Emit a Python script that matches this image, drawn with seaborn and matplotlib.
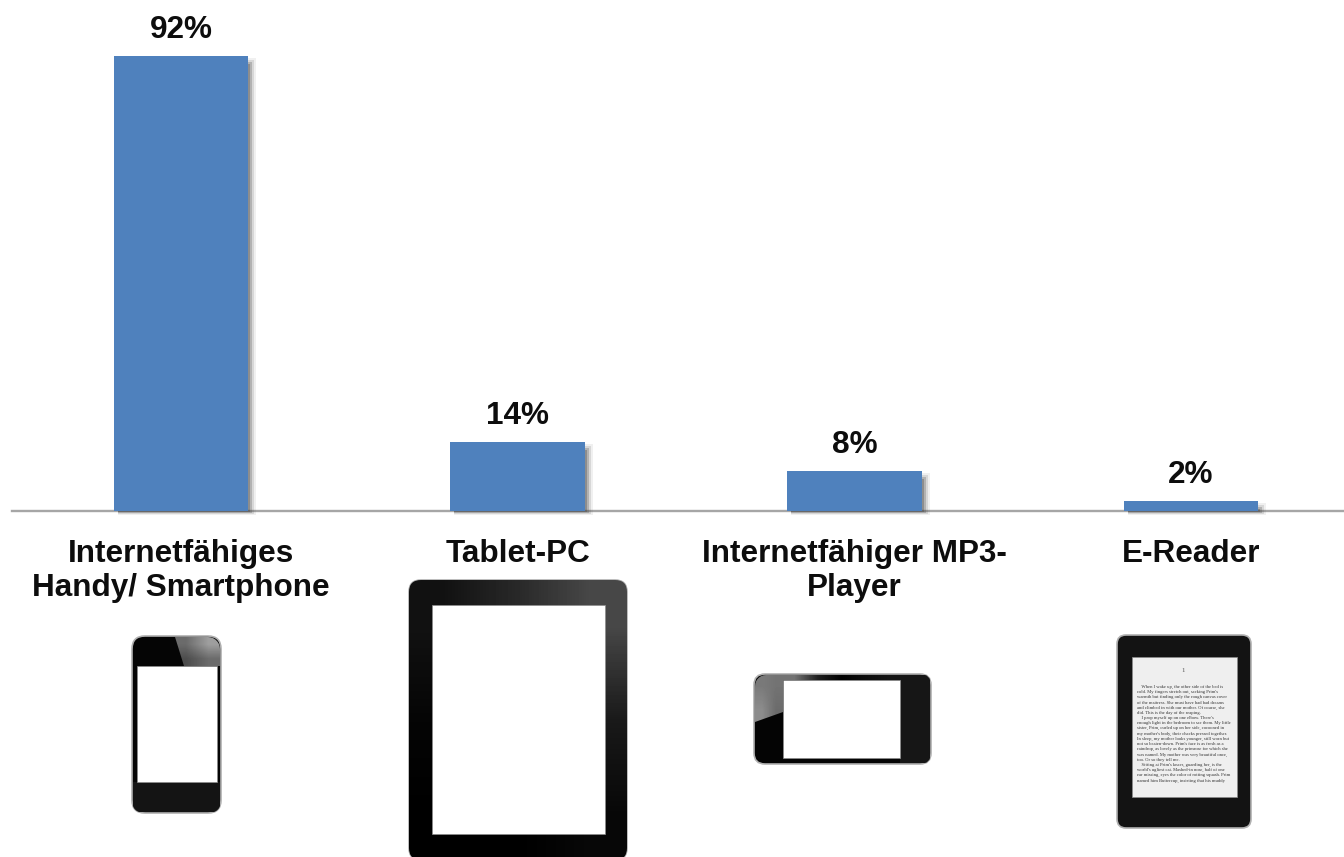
import matplotlib
matplotlib.use("Agg")
import matplotlib.pyplot as plt
from matplotlib.patches import FancyBboxPatch, Rectangle, Polygon
import numpy as np
import seaborn as sns
import pandas as pd

categories = ["Internetfähiges\nHandy/ Smartphone", "Tablet-PC", "Internetfähiger MP3-\nPlayer", "E-Reader"]
values = [92, 14, 8, 2]
value_labels = ["92%", "14%", "8%", "2%"]
page_text = ("    When I wake up, the other side of the bed is\ncold. My fingers stretch out, seeking Prim's\n"
             "warmth but finding only the rough canvas cover\nof the mattress. She must have had bad dreams\n"
             "and climbed in with our mother. Of course, she\ndid. This is the day of the reaping.\n"
             "    I prop myself up on one elbow. There's\nenough light in the bedroom to see them. My little\n"
             "sister, Prim, curled up on her side, cocooned in\nmy mother's body, their cheeks pressed together.\n"
             "In sleep, my mother looks younger, still worn but\nnot so beaten-down. Prim's face is as fresh as a\n"
             "raindrop, as lovely as the primrose for which she\nwas named. My mother was very beautiful once,\n"
             "too. Or so they tell me.\n"
             "    Sitting at Prim's knees, guarding her, is the\nworld's ugliest cat. Mashed-in nose, half of one\n"
             "ear missing, eyes the color of rotting squash. Prim\nnamed him Buttercup, insisting that his muddy")

W, H = 1344, 857
sns.set_theme(style="white")
plt.rcParams['font.family'] = ['Liberation Sans', 'DejaVu Sans']
fig = plt.figure(figsize=(W/100, H/100), dpi=100, facecolor="white")

top_px, base_px = 0, 511
ax = fig.add_axes([12/W, 1-base_px/H, (W-12)/W, (base_px-top_px)/H])
unit = (511-56)/92
df = pd.DataFrame({"cat": categories, "val": values})
sns.barplot(data=df, x="cat", y="val", color="#4F81BD", saturation=1, width=0.4,
            linewidth=0, ax=ax, zorder=3)
xspan = (W-12)/336.67
ax.set_xlim(-0.502, -0.502+xspan)
ax.set_ylim(0, (base_px-top_px)/unit)
pxx, pxy = 1/336.67, 1/unit
# soft drop shadow derived from each bar
for p in list(ax.patches):
    for off, a in ((8, .08), (6, .14), (4, .24), (2, .32)):
        ax.add_patch(Rectangle((p.get_x()+4*pxx, -off*0.5*pxy),
                               p.get_width()-4*pxx+off*pxx,
                               max(p.get_height()-(10-off)*pxy, 0)+off*0.5*pxy,
                               color="#404040", alpha=a, lw=0, zorder=2.7, clip_on=False))
for s in ("top", "left", "right"):
    ax.spines[s].set_visible(False)
ax.spines["bottom"].set_color("#A6A6A6")
ax.spines["bottom"].set_linewidth(1.7)
ax.set_yticks([])
ax.set_xlabel("")
ax.set_ylabel("")
ax.tick_params(axis="x", length=0, pad=20.5)
ax.set_xticks(range(4))
ax.set_xticklabels(categories, fontsize=22.7, fontweight="bold", color="#0d0d0d", linespacing=1.14, va="top")
for i, (v, t) in enumerate(zip(values, value_labels)):
    ax.annotate(t, (i, v), xytext=(0, 8), textcoords="offset points", ha="center", va="bottom",
                fontsize=22.7, fontweight="bold", color="#0d0d0d", annotation_clip=False)

# device pictograms, in pixel coordinates
ov = fig.add_axes([0, 0, 1, 1], facecolor="none")
ov.axis("off")

def device(x0, y0, x1, y1, sx0, sy0, sx1, sy1, r=12, body="#0a0a0a", screen="white"):
    patch = FancyBboxPatch((x0+r, y0+r), x1-x0-2*r, y1-y0-2*r, boxstyle=f"round,pad={r},rounding_size={r}",
                           fc=body, ec="#b0b0b0", lw=1.2, zorder=2)
    ov.add_patch(patch)
    ov.add_patch(Rectangle((sx0, sy0), sx1-sx0, sy1-sy0, fc=screen, ec="#8c8c8c", lw=0.5, zorder=5))
    return patch

def shade(extent, grid, clip, zorder=3):
    im = ov.imshow(np.array(grid, dtype=float), extent=extent, cmap="gray", vmin=0, vmax=1,
                   aspect="auto", interpolation="bilinear", zorder=zorder)
    im.set_clip_path(clip)
    return im

def arc(cx, cy, r, a0, a1, n=8):
    t = np.radians(np.linspace(a0, a1, n))
    return list(zip(cx + r*np.cos(t), cy + r*np.sin(t)))

# phone
b = device(132, 636, 221, 813, 137, 666, 217, 782, r=13, body="#050505")
ov.add_patch(Rectangle((133, 782), 87, 30, fc="#141414", ec="none", zorder=3)).set_clip_path(b)
hl = Polygon([(175, 637)] + arc(208, 649, 12, -90, 0) + [(220, 666), (184, 666)], closed=True, transform=ov.transData)
ov.add_patch(Polygon(hl.get_xy(), fc="none", ec="none"))
shade((175, 220, 666, 637), [[.42, .62], [.30, .42]], hl)
# tablet
b = device(409, 580, 627, 860, 432, 605, 605, 834, r=12, body="#050505")
shade((409, 627, 860, 580), [[.07, .16, .28], [.02, .04, .10], [0, 0, .03]], b)
# MP3 player
b = device(754, 674, 931, 764, 783, 680, 900, 758, r=11, body="#040404")
ov.add_patch(Rectangle((900, 675), 30, 88, fc="#161616", ec="none", zorder=3)).set_clip_path(b)
shade((783, 900, 680, 675), [[.45, .12, .0, .05, .08]], b)
hl = Polygon(arc(766, 686, 11, 180, 270) + [(783, 675), (783, 712), (755, 722)], closed=True, transform=ov.transData)
ov.add_patch(Polygon(hl.get_xy(), fc="none", ec="none"))
im = shade((755, 783, 722, 675), [[.48, .45], [.55, .42]], hl)
# e-reader
b = device(1117, 635, 1251, 828, 1132, 657, 1237, 797, r=9, body="#131313", screen="#efefef")
ov.text(1183, 670, "1", fontsize=5, ha="center", va="center", color="#555555", zorder=6,
        family="Liberation Serif")
ov.text(1137, 685, page_text, fontsize=3.35, ha="left", va="top", color="#333333", zorder=6,
        family="Liberation Serif", linespacing=1.38)

ov.set_xlim(0, W); ov.set_ylim(H, 0)
ov.axis("off")

fig.savefig("out.png", dpi=100, facecolor="white")
